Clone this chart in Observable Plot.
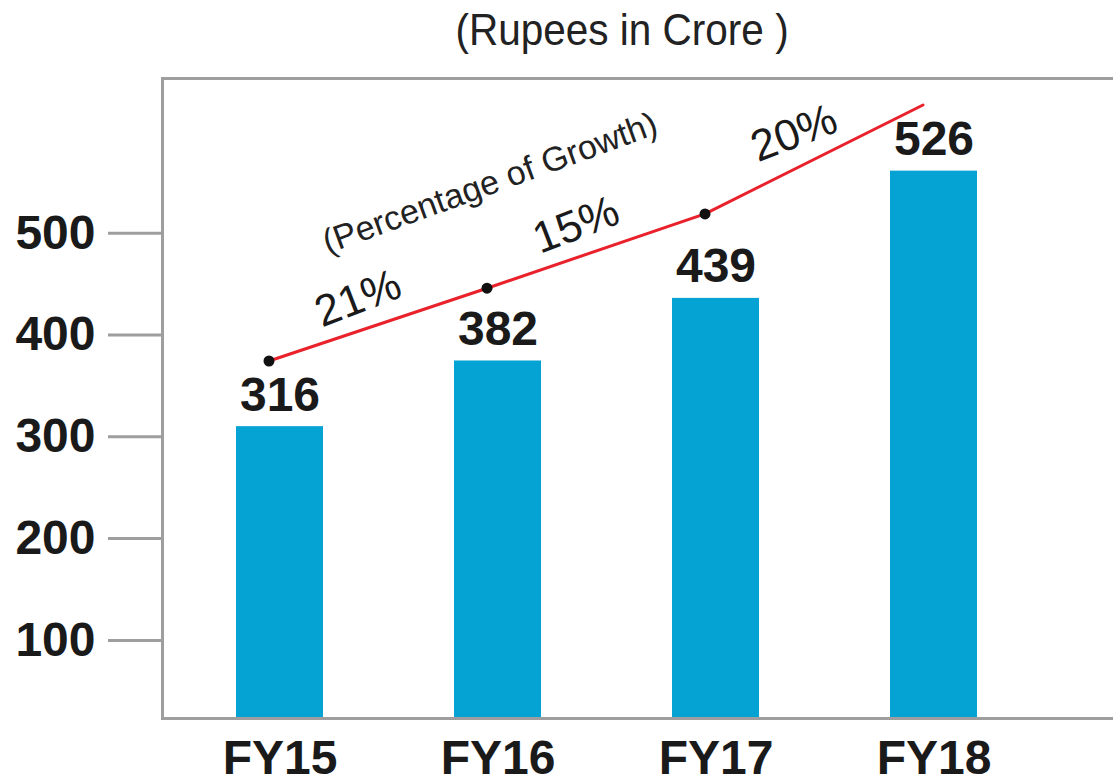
<!DOCTYPE html>
<html><head><meta charset="utf-8">
<script src="https://cdn.jsdelivr.net/npm/d3@7"></script>
<script src="https://cdn.jsdelivr.net/npm/@observablehq/plot@0.6"></script>
<style>
body{margin:0;background:#fff;font-family:"Liberation Sans",Arial,sans-serif;}
#title{height:60px;line-height:60px;width:1113px;text-align:center;padding-left:131px;box-sizing:border-box;font-size:45px;color:#222;white-space:nowrap;}
#title span{display:inline-block;transform:scaleX(0.9);}
#chart svg{display:block;}
</style></head>
<body>
<div id="title"><span>(Rupees in Crore )</span></div>
<div id="chart"></div>
<script>
// ---- data ----
const years = ["FY15", "FY16", "FY17", "FY18"];
const barValues = [310, 374.5, 436, 561];          // drawn bar heights
const barLabels = ["316", "382", "439", "526"];    // printed values
const trendValues = [374.5, 446, 519, 626];        // red growth line
const growthLabels = ["21%", "15%", "20%"];
const growthTitle = "(Percentage of Growth)";
const yTicks = [100, 200, 300, 400, 500];

// ---- scale configuration ----
const yDomain = [23.3, 652];
const xRange = [162, 1051];
const padIn = 0.6, padOut = 0.336;
const step = d3.scaleBand(years, xRange).paddingInner(padIn).paddingOuter(padOut).step();

const bars = years.map((year, i) => ({year, value: barValues[i], label: barLabels[i]}));
const trend = years.map((year, i) => ({year, value: trendValues[i]}));
const segs = growthLabels.map((text, i) => ({year: years[i], value: (trendValues[i] + trendValues[i + 1]) / 2, text}));
const growthNote = [{year: years[1], value: trendValues[1], text: growthTitle}];

const GRAY = "#9e9e9e";
const INK = "#1a1a1a";
const LINE_DX = -11;

const chart = Plot.plot({
  width: 1113, height: 724,
  marginLeft: 162, marginRight: 0, marginTop: 18, marginBottom: 66,
  style: {fontFamily: "Liberation Sans, Arial, sans-serif", background: "#fff", overflow: "visible"},
  x: {domain: years, range: xRange, paddingInner: padIn, paddingOuter: padOut, align: 0.5},
  y: {domain: yDomain},
  marks: [
    Plot.barY(bars, {x: "year", y: "value", fill: "#04a3d4", clip: true}),
    Plot.ruleY([yDomain[0], yDomain[1]], {stroke: GRAY, strokeWidth: 3}),
    Plot.frame({anchor: "left", stroke: GRAY, strokeWidth: 3}),
    Plot.axisY({ticks: yTicks, tickSize: 54, tickPadding: 13, stroke: GRAY, strokeWidth: 3, fill: INK, fontSize: 48, fontWeight: "bold", label: null}),
    Plot.axisX({tickSize: 0, tickPadding: 21, fill: INK, fontSize: 48, fontWeight: "bold", label: null}),
    Plot.line(trend, {x: "year", y: "value", stroke: "#e8212b", strokeWidth: 3, dx: LINE_DX}),
    Plot.dot(trend.slice(0, 3), {x: "year", y: "value", r: 5.5, fill: "#111", dx: LINE_DX}),
    Plot.text(bars, {x: "year", y: "value", text: "label", lineAnchor: "bottom", dy: -16, fontSize: 48, fontWeight: "bold", fill: INK}),
    Plot.text(segs, {x: "year", y: "value", text: "text", dx: step / 2 + LINE_DX - 20, dy: -26, rotate: -21, fontSize: 44, fill: INK}),
    Plot.text(growthNote, {x: "year", y: "value", text: "text", dx: -8, dy: -105, rotate: -20, fontSize: 34, fill: "#222"})
  ]
});
document.getElementById("chart").appendChild(chart);
</script>
</body></html>
